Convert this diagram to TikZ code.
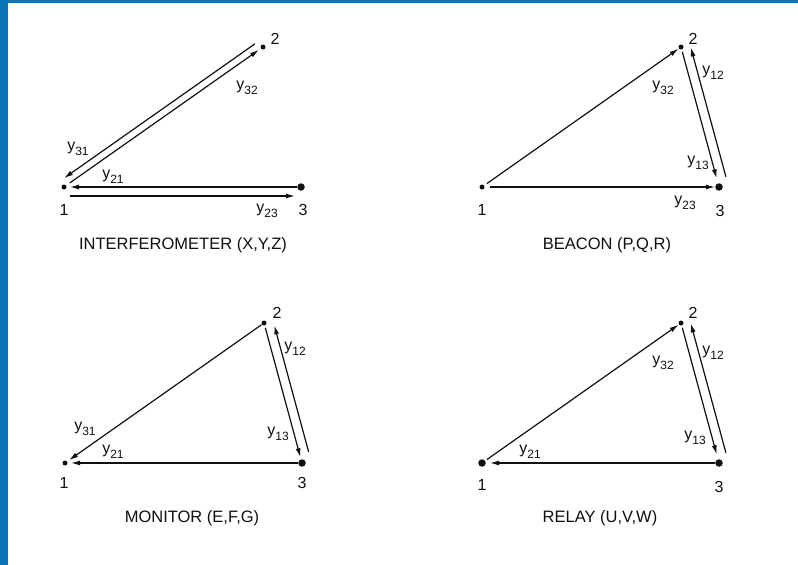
\documentclass[tikz,border=0pt]{standalone}
\usepackage{fontspec}
\setmainfont{Liberation Sans}
\usetikzlibrary{arrows.meta,positioning,calc}
\definecolor{Frame}{HTML}{0A74B8}
\definecolor{Ink}{HTML}{101010}
\newcommand{\yy}[1]{y\raisebox{-5.5pt}{\fontsize{12}{12}\selectfont #1}}
\tikzset{
  dotsmall/.style={circle,fill=Ink,inner sep=0pt,minimum size=5pt},
  dotbig/.style={circle,fill=Ink,inner sep=0pt,minimum size=7.5pt},
  numtext/.style={font=\fontsize{16}{18}\selectfont,text=Ink,inner sep=0pt},
  sigtext/.style={font=\fontsize{16}{18}\selectfont,text=Ink,inner sep=0pt},
  captext/.style={font=\fontsize{16.5}{18}\selectfont,text=Ink,inner sep=0pt},
  link/.style={-{Latex[length=9pt,width=5pt]},draw=Ink,line width=1.2pt}
}

\begin{document}
\begin{tikzpicture}[x=1pt,y=-1pt]
  \useasboundingbox (0,0) rectangle (798,565);
  \fill[white] (0,0) rectangle (798,565);
  \fill[Frame] (0,0) rectangle (7.5,565);
  \fill[Frame] (0,0) rectangle (798,3);

  % interferometer
  \begin{scope}[shift={(64,187)}]
    \node[dotsmall] (i1) at (0,0) {};
    \node[dotsmall] (i2) at (199,-140) {};
    \node[dotbig] (i3) at (237,0) {};
    \node[numtext] at (0,23) {1};
    \node[numtext] at (211,-148) {2};
    \node[numtext] at (239,23) {3};
    \draw[link,shorten <=5pt,shorten >=5pt] ([shift={(-4,-6)}]i2.center) -- ([shift={(-4,-6)}]i1.center);
    \draw[link,shorten <=7pt,shorten >=5pt] (i1.center) -- (i2.center);
    \draw[link,shorten <=4pt,shorten >=6pt] (i3.center) -- (i1.center);
    \draw[link,shorten <=6pt,shorten >=6pt] ([yshift=-9pt]i1.center) -- ([yshift=-9pt]i3.center);
    \node[sigtext] at (183,-99) {\yy{32}};
    \node[sigtext] at (14,-38) {\yy{31}};
    \node[sigtext] at (49,-10) {\yy{21}};
    \node[sigtext] at (203,24) {\yy{23}};
    \node[captext] at (119,58) {INTERFEROMETER (X,Y,Z)};
  \end{scope}

  % beacon
  \begin{scope}[shift={(482,187)}]
    \node[dotsmall] (b1) at (0,0) {};
    \node[dotsmall] (b2) at (199,-140) {};
    \node[dotbig] (b3) at (237,0) {};
    \node[numtext] at (0,23) {1};
    \node[numtext] at (211,-148) {2};
    \node[numtext] at (238,24) {3};
    \draw[link,shorten <=6pt,shorten >=3pt] (b1.center) -- (b2.center);
    \draw[link,shorten <=8pt,shorten >=4pt] (b1.center) -- (b3.center);
    \draw[link,shorten <=5pt,shorten >=9pt] (b2.center) -- (b3.center);
    \draw[link,shorten <=8pt,shorten >=3pt] ([shift={(9,-2.5)}]b3.center) -- ([shift={(9,-2.5)}]b2.center);
    \node[sigtext] at (181,-99) {\yy{32}};
    \node[sigtext] at (231,-114) {\yy{12}};
    \node[sigtext] at (216,-24) {\yy{13}};
    \node[sigtext] at (203,16) {\yy{23}};
    \node[captext] at (125,58) {BEACON (P,Q,R)};
  \end{scope}

  % monitor
  \begin{scope}[shift={(65,463)}]
    \node[dotsmall] (m1) at (0,0) {};
    \node[dotsmall] (m2) at (199,-140) {};
    \node[dotbig] (m3) at (237,0) {};
    \node[numtext] at (-1,20) {1};
    \node[numtext] at (212,-150) {2};
    \node[numtext] at (237,20) {3};
    \draw[link,shorten <=3pt,shorten >=5pt] (m2.center) -- (m1.center);
    \draw[link,shorten <=4pt,shorten >=6pt] (m3.center) -- (m1.center);
    \draw[link,shorten <=5pt,shorten >=6pt] (m2.center) -- (m3.center);
    \draw[link,shorten <=9pt,shorten >=5pt] ([shift={(9,-2.5)}]m3.center) -- ([shift={(9,-2.5)}]m2.center);
    \node[sigtext] at (20,-34) {\yy{31}};
    \node[sigtext] at (48,-11) {\yy{21}};
    \node[sigtext] at (230,-114) {\yy{12}};
    \node[sigtext] at (213,-29) {\yy{13}};
    \node[captext] at (127,55) {MONITOR (E,F,G)};
  \end{scope}

  % relay
  \begin{scope}[shift={(482,463)}]
    \node[dotbig] (r1) at (0,0) {};
    \node[dotsmall] (r2) at (199,-140) {};
    \node[dotbig] (r3) at (237,0) {};
    \node[numtext] at (0,22) {1};
    \node[numtext] at (211,-150) {2};
    \node[numtext] at (237,24) {3};
    \draw[link,shorten <=6pt,shorten >=3pt] (r1.center) -- (r2.center);
    \draw[link,shorten <=4pt,shorten >=8pt] (r3.center) -- (r1.center);
    \draw[link,shorten <=5pt,shorten >=9pt] (r2.center) -- (r3.center);
    \draw[link,shorten <=8pt,shorten >=3pt] ([shift={(9,-2.5)}]r3.center) -- ([shift={(9,-2.5)}]r2.center);
    \node[sigtext] at (181,-100) {\yy{32}};
    \node[sigtext] at (231,-110) {\yy{12}};
    \node[sigtext] at (213,-25) {\yy{13}};
    \node[sigtext] at (48,-11) {\yy{21}};
    \node[captext] at (118,55) {RELAY (U,V,W)};
  \end{scope}
\end{tikzpicture}
\end{document}
